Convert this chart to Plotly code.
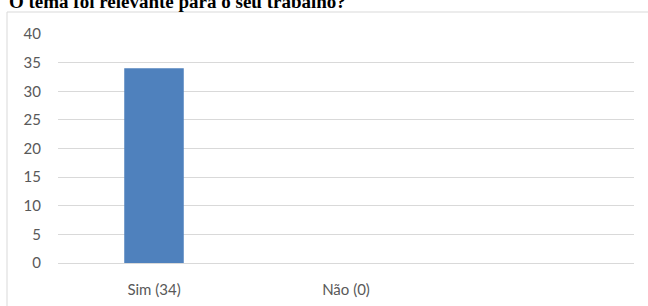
import plotly.graph_objects as go

categories = ["Sim (34)", "Não (0)"]
values = [34, 0]
title_text = "O tema foi relevante para o seu trabalho?"

W, H = 648, 306
L, R, T, B = 58, 14, 34, 43
pw, ph = W - L - R, H - T - B

def px_x(p):
    return (p - L) / pw

def px_y(p):
    return (H - B - p) / ph

fig = go.Figure()
fig.add_trace(go.Bar(
    x=categories, y=values,
    marker=dict(color="#4F81BD", line=dict(width=0)),
    width=0.31,
))

fig.update_layout(
    width=W, height=H,
    margin=dict(l=L, r=R, t=T, b=B, pad=0),
    plot_bgcolor="white", paper_bgcolor="white",
    showlegend=False,
    font=dict(family="Lato", size=15, color="#595959"),
    xaxis=dict(
        type="category", range=[-0.5, 2.5], automargin=False,
        showgrid=False, showline=False, zeroline=False,
        ticks="", ticklabelstandoff=16,
        tickfont=dict(family="Lato", size=15, color="#595959"),
    ),
    yaxis=dict(
        range=[0, 40], tickvals=[0, 5, 10, 15, 20, 25, 30, 35, 40],
        automargin=False,
        showgrid=True, gridcolor="#D9D9D9", gridwidth=1,
        zeroline=True, zerolinecolor="#D9D9D9", zerolinewidth=1,
        showline=False, ticks="", ticklabelstandoff=16,
        tickfont=dict(family="Lato", size=15, color="#595959"),
    ),
    shapes=[
        dict(type="line", xref="paper", yref="paper",
             x0=px_x(7), x1=px_x(700), y0=px_y(12), y1=px_y(12),
             line=dict(color="#D9D9D9", width=1)),
        dict(type="line", xref="paper", yref="paper",
             x0=px_x(7), x1=px_x(7), y0=px_y(12), y1=px_y(400),
             line=dict(color="#D9D9D9", width=1)),
    ],
    annotations=[
        dict(text="<b>" + title_text + "</b>", xref="paper", yref="paper",
             x=px_x(7), y=px_y(14), xanchor="left", yanchor="bottom",
             showarrow=False,
             font=dict(family="Liberation Serif", size=19, color="#000000")),
    ],
)

fig.write_html("out.html", config={"displayModeBar": False},
               post_script="document.body.style.margin='0';")
